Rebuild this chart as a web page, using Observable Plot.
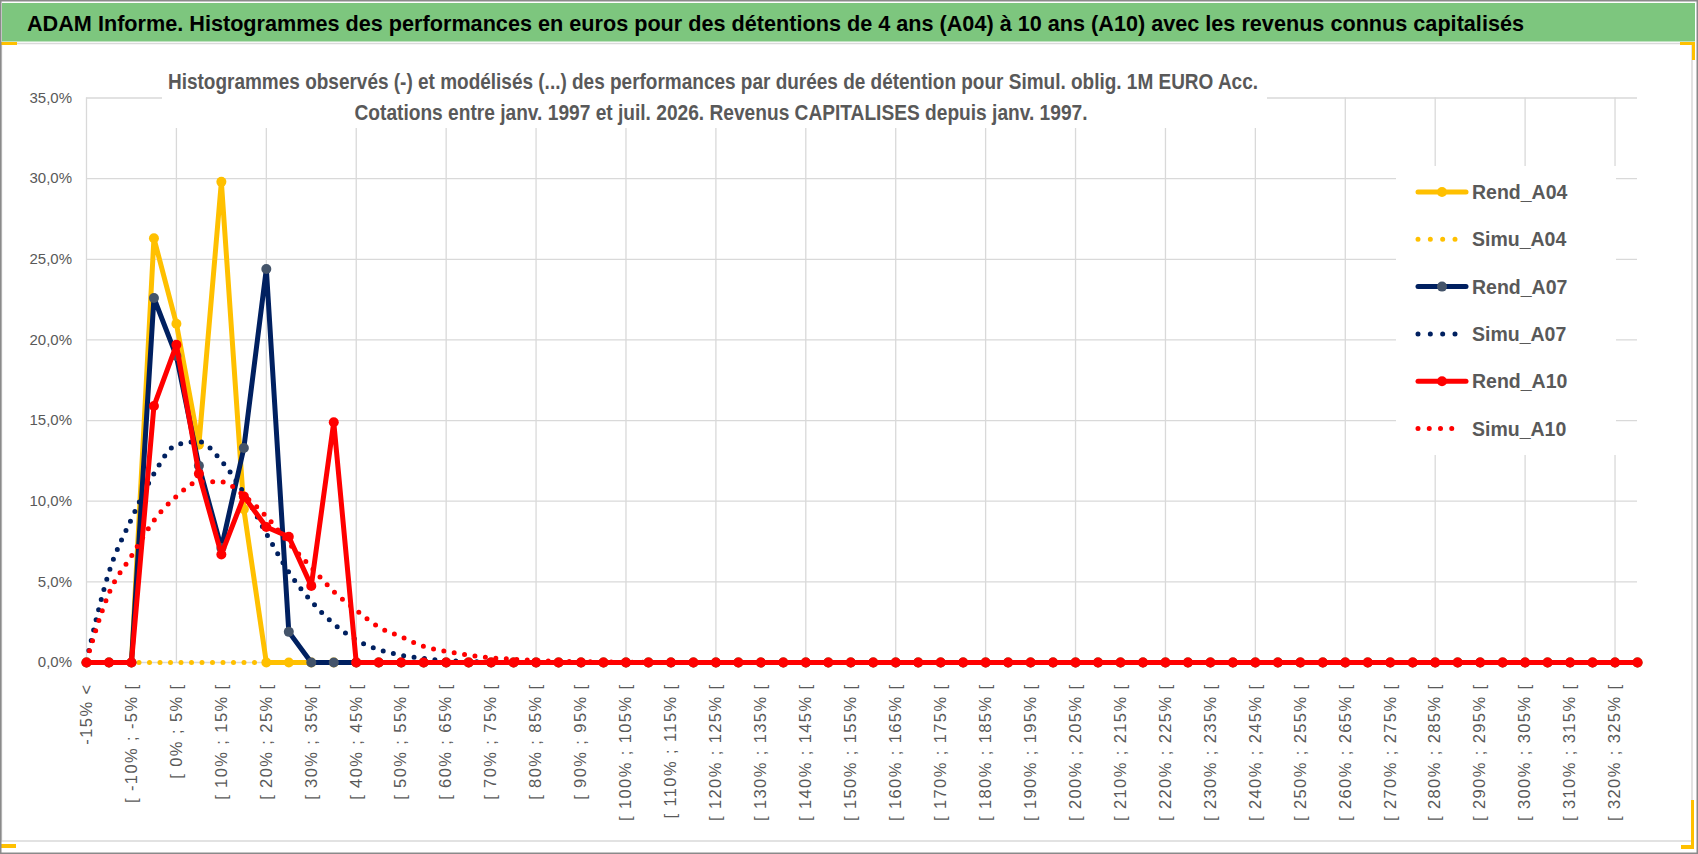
<!DOCTYPE html>
<html><head><meta charset="utf-8">
<script src="https://cdn.jsdelivr.net/npm/d3@7"></script>
<script src="https://cdn.jsdelivr.net/npm/@observablehq/plot@0.6"></script>
<style>
body{margin:0;background:#fff;}
#chart{position:relative;width:1698px;height:854px;overflow:hidden;background:#fff;font-family:"Liberation Sans",Arial,sans-serif;}
#plot,#overlay{position:absolute;left:0;top:0;}
#plot svg [aria-label="x-axis tick label"] text{letter-spacing:1.4px;}
</style></head>
<body><div id="chart"><div id="plot"></div><svg id="overlay" width="1698" height="854"></svg></div>
<script>
// ---------- DATA ----------
const titleText = "ADAM Informe. Histogrammes des performances en euros pour des détentions de 4 ans (A04) à 10 ans (A10) avec les revenus connus capitalisés";
const subtitleLines = [
  "Histogrammes observés (-) et modélisés (...) des performances par durées de détention pour Simul. oblig. 1M EURO Acc.",
  "Cotations entre janv. 1997 et juil. 2026. Revenus CAPITALISES depuis janv. 1997."
];
const categories = [
  "-15% <","[ -15% ; -10% [","[ -10% ; -5% [","[ -5% ; 0% [","[ 0% ; 5% [","[ 5% ; 10% [","[ 10% ; 15% [","[ 15% ; 20% [","[ 20% ; 25% [","[ 25% ; 30% [",
  "[ 30% ; 35% [","[ 35% ; 40% [","[ 40% ; 45% [","[ 45% ; 50% [","[ 50% ; 55% [","[ 55% ; 60% [","[ 60% ; 65% [","[ 65% ; 70% [","[ 70% ; 75% [","[ 75% ; 80% [",
  "[ 80% ; 85% [","[ 85% ; 90% [","[ 90% ; 95% [","[ 95% ; 100% [","[ 100% ; 105% [","[ 105% ; 110% [","[ 110% ; 115% [","[ 115% ; 120% [","[ 120% ; 125% [","[ 125% ; 130% [",
  "[ 130% ; 135% [","[ 135% ; 140% [","[ 140% ; 145% [","[ 145% ; 150% [","[ 150% ; 155% [","[ 155% ; 160% [","[ 160% ; 165% [","[ 165% ; 170% [","[ 170% ; 175% [","[ 175% ; 180% [",
  "[ 180% ; 185% [","[ 185% ; 190% [","[ 190% ; 195% [","[ 195% ; 200% [","[ 200% ; 205% [","[ 205% ; 210% [","[ 210% ; 215% [","[ 215% ; 220% [","[ 220% ; 225% [","[ 225% ; 230% [",
  "[ 230% ; 235% [","[ 235% ; 240% [","[ 240% ; 245% [","[ 245% ; 250% [","[ 250% ; 255% [","[ 255% ; 260% [","[ 260% ; 265% [","[ 265% ; 270% [","[ 270% ; 275% [","[ 275% ; 280% [",
  "[ 280% ; 285% [","[ 285% ; 290% [","[ 290% ; 295% [","[ 295% ; 300% [","[ 300% ; 305% [","[ 305% ; 310% [","[ 310% ; 315% [","[ 315% ; 320% [","[ 320% ; 325% [","[ 325% ; 330% ["
];
// values in %
const rendA04 = [0,0,0,26.3,21.0,13.5,29.8,9.5,0,0, 0,0,0,0,0,0,0,0,0,0, 0,0,0,0,0,0,0,0,0,0, 0,0,0,0,0,0,0,0,0,0, 0,0,0,0,0,0,0,0,0,0, 0,0,0,0,0,0,0,0,0,0, 0,0,0,0,0,0,0,0,0,0];
const simuA04 = [0,0,0,0,0,0,0,0,0,0, 0,0,0,0,0,0,0,0,0,0, 0,0,0,0,0,0,0,0,0,0, 0,0,0,0,0,0,0,0,0,0, 0,0,0,0,0,0,0,0,0,0, 0,0,0,0,0,0,0,0,0,0, 0,0,0,0,0,0,0,0,0,0];
const rendA07 = [0,0,0,22.6,19.0,12.2,7.1,13.3,24.4,1.9, 0,0,0,0,0,0,0,0,0,0, 0,0,0,0,0,0,0,0,0,0, 0,0,0,0,0,0,0,0,0,0, 0,0,0,0,0,0,0,0,0,0, 0,0,0,0,0,0,0,0,0,0, 0,0,0,0,0,0,0,0,0,0];
const simuA07 = [0.1,5.6,8.9,11.7,13.5,13.7,12.5,10.5,8.0,5.6, 3.8,2.4,1.4,0.8,0.45,0.25,0.12,0.06,0.03,0.01, 0,0,0,0,0,0,0,0,0,0, 0,0,0,0,0,0,0,0,0,0, 0,0,0,0,0,0,0,0,0,0, 0,0,0,0,0,0,0,0,0,0, 0,0,0,0,0,0,0,0,0,0];
const rendA10 = [0,0,0,15.9,19.7,11.7,6.7,10.3,8.4,7.8, 4.75,14.9,0,0,0,0,0,0,0,0, 0,0,0,0,0,0,0,0,0,0, 0,0,0,0,0,0,0,0,0,0, 0,0,0,0,0,0,0,0,0,0, 0,0,0,0,0,0,0,0,0,0, 0,0,0,0,0,0,0,0,0,0];
const simuA10 = [0.1,4.3,6.6,8.8,10.3,11.2,11.2,10.35,9.05,7.4, 5.9,4.4,3.25,2.2,1.6,1.0,0.69,0.46,0.29,0.2, 0.13,0.08,0.05,0.03,0.02,0.01,0,0,0,0, 0,0,0,0,0,0,0,0,0,0, 0,0,0,0,0,0,0,0,0,0, 0,0,0,0,0,0,0,0,0,0, 0,0,0,0,0,0,0,0,0,0];
const yTicks = [0,5,10,15,20,25,30,35];
const labelTicks = categories.filter((c, i) => i % 2 === 0);
const gridTicks = categories.filter((c, i) => i % 4 === 0);

const seriesNames = ["Rend_A04","Simu_A04","Rend_A07","Simu_A07","Rend_A10","Simu_A10"];
const seriesValues = [rendA04, simuA04, rendA07, simuA07, rendA10, simuA10];
const seriesColors = ["#FFC000","#FFC000","#002060","#002060","#FF0000","#FF0000"];
const markerColors = ["#FFC000",null,"#44546A",null,"#FF0000",null];

// ---------- PLOT ----------
const W = 1698, H = 854;
const marks = [
  Plot.gridY(yTicks, {stroke: "#d9d9d9", strokeOpacity: 1, strokeWidth: 1.3}),
  Plot.gridX(gridTicks, {stroke: "#d9d9d9", strokeOpacity: 1, strokeWidth: 1.3}),
  Plot.axisY(yTicks, {tickSize: 0, tickPadding: 14.5, fontSize: 15, fill: "#595959", label: null,
    tickFormat: d => d.toFixed(1).replace(".", ",") + "%"}),
  Plot.axisX(labelTicks, {tickSize: 0, tickPadding: 21, tickRotate: -90, fontSize: 16.5, fill: "#595959", label: null})
];
seriesNames.forEach((name, s) => {
  const data = categories.map((c, i) => ({cat: c, v: seriesValues[s][i]}));
  const isSimu = markerColors[s] === null;
  if (isSimu) {
    marks.push(Plot.line(data, {x: "cat", y: "v", stroke: seriesColors[s], strokeWidth: 5,
      strokeDasharray: "0,10.5", strokeLinecap: "round", curve: "monotone-x"}));
  } else {
    marks.push(Plot.line(data, {x: "cat", y: "v", stroke: seriesColors[s], strokeWidth: 5,
      strokeLinejoin: "round", strokeLinecap: "round"}));
    marks.push(Plot.dot(data, {x: "cat", y: "v", r: 5, fill: markerColors[s], stroke: "none"}));
  }
});

const chart = Plot.plot({
  width: W, height: H,
  marginLeft: 86, marginRight: 61, marginTop: 97.5, marginBottom: 192,
  x: {type: "point", domain: categories, padding: 0, axis: null, label: null},
  y: {domain: [0, 35], axis: null, label: null},
  style: {fontFamily: "'Liberation Sans', Arial, sans-serif", background: "transparent", overflow: "visible"},
  marks
});
document.getElementById("plot").appendChild(chart);

// ---------- OVERLAY: frame, title band, subtitle box, legend ----------
const ov = d3.select("#overlay");
// chart border (light)
ov.append("rect").attr("x", 1.5).attr("y", 43.5).attr("width", 1690.5).attr("height", 797.5)
  .attr("fill", "none").attr("stroke", "#d9d9d9").attr("stroke-width", 1.5);
// title band
ov.append("rect").attr("x", 2).attr("y", 3).attr("width", 1693).attr("height", 38.5).attr("fill", "#7DC67E");
ov.append("text").attr("x", 27).attr("y", 31).attr("textLength", 1497).attr("lengthAdjust", "spacingAndGlyphs")
  .attr("font-family", "'Liberation Sans', Arial, sans-serif").attr("font-weight", "bold").attr("font-size", 22)
  .attr("fill", "#000").text(titleText);
// selection handles (yellow)
[[0,42,17,3],[0,844,16,4],[1680,42,15,3],[1692,42,3,18],[1681,845,13,4],[1691,800,3,49]].forEach(r =>
  ov.append("rect").attr("x", r[0]).attr("y", r[1]).attr("width", r[2]).attr("height", r[3]).attr("fill", "#FFC000"));
// outer border
ov.append("rect").attr("x", 0.75).attr("y", 0.75).attr("width", W - 1.5).attr("height", H - 1.5)
  .attr("fill", "none").attr("stroke", "#8a8a8a").attr("stroke-width", 1.5);
// subtitle box
ov.append("rect").attr("x", 162).attr("y", 56).attr("width", 1105).attr("height", 72).attr("fill", "#fff");
const subLens = [1090, 733];
const subX = [713, 721];
const subY = [89, 120];
subtitleLines.forEach((t, i) => {
  ov.append("text").attr("x", subX[i]).attr("y", subY[i]).attr("text-anchor", "middle")
    .attr("textLength", subLens[i]).attr("lengthAdjust", "spacingAndGlyphs")
    .attr("font-family", "'Liberation Sans', Arial, sans-serif").attr("font-weight", "bold").attr("font-size", 21.5)
    .attr("fill", "#595959").text(t);
});
// legend
ov.append("rect").attr("x", 1396).attr("y", 166).attr("width", 220).attr("height", 289).attr("fill", "#fff");
const simuDotEnd = {Simu_A04: 1455, Simu_A07: 1455, Simu_A10: 1463};
seriesNames.forEach((name, s) => {
  const y = 192 + 47.3 * s;
  if (markerColors[s] === null) {
    const x2 = simuDotEnd[name];
    const n = name === "Simu_A10" ? 4 : 3;
    ov.append("line").attr("x1", 1418).attr("x2", x2).attr("y1", y).attr("y2", y)
      .attr("stroke", seriesColors[s]).attr("stroke-width", 5).attr("stroke-linecap", "round")
      .attr("stroke-dasharray", `0,${(x2 - 1418) / n}`);
  } else {
    ov.append("line").attr("x1", 1418).attr("x2", 1466).attr("y1", y).attr("y2", y)
      .attr("stroke", seriesColors[s]).attr("stroke-width", 5).attr("stroke-linecap", "round");
    ov.append("circle").attr("cx", 1442).attr("cy", y).attr("r", 5).attr("fill", markerColors[s]);
  }
  ov.append("text").attr("x", 1472).attr("y", y + 7)
    .attr("font-family", "'Liberation Sans', Arial, sans-serif").attr("font-weight", "bold").attr("font-size", 19.5)
    .attr("fill", "#595959").text(name);
});
</script>
</body></html>
